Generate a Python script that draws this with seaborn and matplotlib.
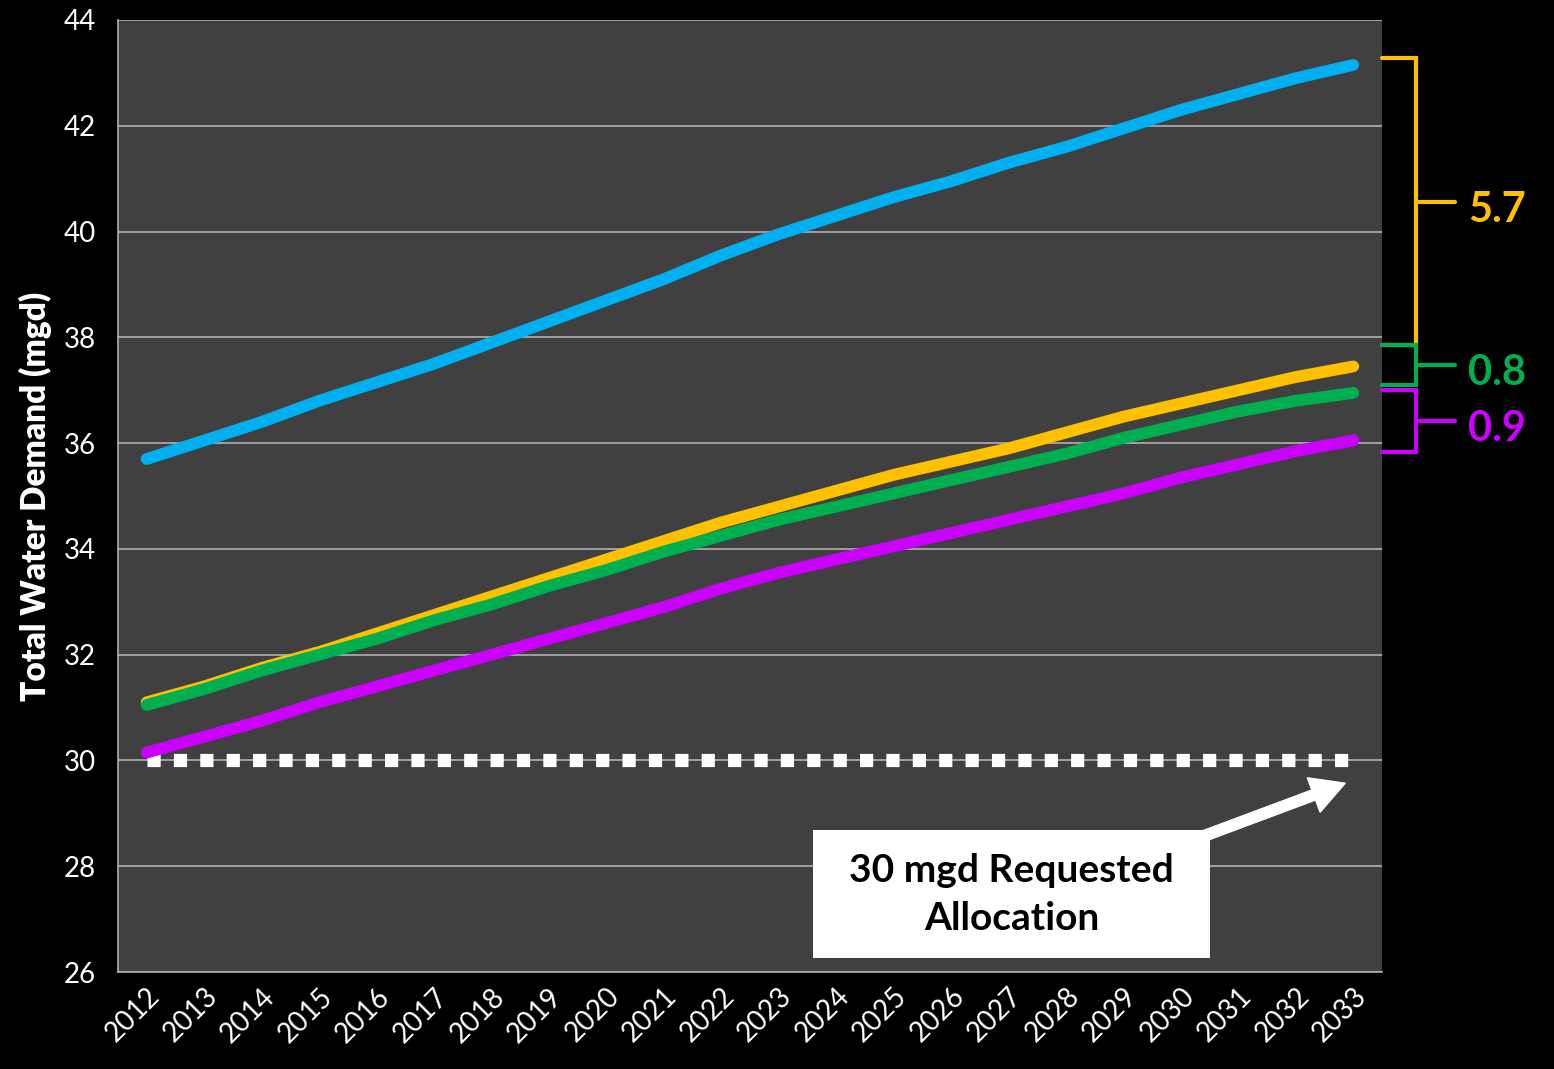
import numpy as np
import pandas as pd
import matplotlib.pyplot as plt
import matplotlib.transforms as mtransforms
from matplotlib.patches import Rectangle
import seaborn as sns

# Projected total water demand (mgd) per year, four scenarios
years = [str(y) for y in range(2012, 2034)]
blue_demand = [35.7, 36.05, 36.4, 36.8, 37.15, 37.5, 37.9, 38.3, 38.7, 39.1, 39.55,
               39.95, 40.3, 40.65, 40.95, 41.3, 41.6, 41.95, 42.3, 42.6, 42.9, 43.15]
yellow_demand = [31.1, 31.4, 31.75, 32.05, 32.4, 32.75, 33.1, 33.45, 33.8, 34.15, 34.5,
                 34.8, 35.1, 35.4, 35.65, 35.9, 36.2, 36.5, 36.75, 37.0, 37.25, 37.45]
green_demand = [31.05, 31.35, 31.7, 32.0, 32.3, 32.65, 32.95, 33.3, 33.6, 33.95, 34.25,
                34.55, 34.8, 35.05, 35.3, 35.55, 35.8, 36.1, 36.35, 36.6, 36.8, 36.95]
magenta_demand = [30.15, 30.45, 30.75, 31.1, 31.4, 31.7, 32.0, 32.3, 32.6, 32.9, 33.25,
                  33.55, 33.8, 34.05, 34.3, 34.55, 34.8, 35.05, 35.35, 35.6, 35.85, 36.05]
allocation = [30.0] * len(years)

# Bracket annotations on the right: (top, bottom, label)
bracket_tops = [43.28, 37.85, 37.0]
bracket_bottoms = [37.85, 37.1, 35.83]
bracket_labels = ["5.7", "0.8", "0.9"]

colors = {"blue": "#00B0F0", "yellow": "#FFC000", "green": "#00B050", "magenta": "#CC00FF"}

df = pd.DataFrame({
    "year": years * 4,
    "demand": blue_demand + yellow_demand + green_demand + magenta_demand,
    "scenario": ["blue"] * 22 + ["yellow"] * 22 + ["green"] * 22 + ["magenta"] * 22,
})
df_alloc = pd.DataFrame({"year": years, "demand": allocation})

sns.set_theme(style="dark")
plt.rcParams["font.family"] = ["Lato", "DejaVu Sans"]

fig = plt.figure(figsize=(15.54, 10.69), dpi=100, facecolor="black")
ax = fig.add_axes([0.0759, 0.0907, 0.8134, 0.8906])
ax.set_facecolor("#404040")

# allocation line (dotted white squares)
sns.lineplot(data=df_alloc, x="year", y="demand", color="white", linewidth=9.5,
             linestyle=(0, (1, 1.0)), dash_capstyle="butt", ax=ax, sort=False)

sns.lineplot(data=df, x="year", y="demand", hue="scenario", palette=colors,
             linewidth=8.5, solid_capstyle="round", legend=False, ax=ax, sort=False)

ax.set_xlim(-0.5, len(years) - 0.5)
ax.set_ylim(26, 44)
ax.set_yticks(np.arange(26, 45, 2))
ax.yaxis.grid(True, color="#b0b0b0", linewidth=1.2)
ax.xaxis.grid(False)

ax.set_xticks(range(len(years)))
ax.set_xticklabels(years, rotation=45, ha="right", rotation_mode="anchor")
ax.set_xticks(np.arange(-0.5, len(years)), minor=True)
ax.tick_params(axis="x", which="major", length=0, pad=8, labelsize=20, labelcolor="white")
ax.tick_params(axis="x", which="minor", length=9, width=1.2, color="#b0b0b0", direction="out")
ax.tick_params(axis="y", length=10, width=1.2, color="#b0b0b0", direction="out",
               labelsize=20, labelcolor="white", pad=6)
for s in ["top", "right"]:
    ax.spines[s].set_visible(False)
for s in ["left", "bottom"]:
    ax.spines[s].set_color("#b0b0b0")
    ax.spines[s].set_linewidth(1.2)

ax.set_xlabel("")
ax.set_ylabel("Total Water Demand (mgd)", color="white", fontsize=24,
              fontweight="heavy", labelpad=8)

# annotation box with arrow
ax.add_patch(Rectangle((11.6, 26.26), 6.91, 2.42, facecolor="white", edgecolor="none", zorder=5))
ax.text(15.05, 27.47, "30 mgd Requested\nAllocation", ha="center", va="center",
        fontsize=28, fontweight="bold", color="black", linespacing=1.45, zorder=6)
ax.annotate("", xy=(20.86, 29.57), xytext=(18.42, 28.58),
            arrowprops=dict(arrowstyle="simple,head_length=1.1,head_width=1.2,tail_width=0.35",
                            color="white", mutation_scale=22, shrinkA=0, shrinkB=0), zorder=6)

# brackets to the right of the axes
trans = mtransforms.blended_transform_factory(ax.transAxes, ax.transData)
bracket_colors = [colors["yellow"], colors["green"], colors["magenta"]]
for top, bot, lab, c in zip(bracket_tops, bracket_bottoms, bracket_labels, bracket_colors):
    mid = (top + bot) / 2
    ax.plot([1.0, 1.027, 1.027, 1.0], [top, top, bot, bot], color=c, lw=3,
            transform=trans, clip_on=False, solid_joinstyle="miter")
    ax.plot([1.027, 1.058], [mid, mid], color=c, lw=3, transform=trans, clip_on=False)
    ax.text(1.068, mid - 0.15, lab, color=c, fontsize=30, fontweight="bold", va="center",
            ha="left", transform=trans)

fig.savefig("out.png", dpi=100, facecolor="black")
